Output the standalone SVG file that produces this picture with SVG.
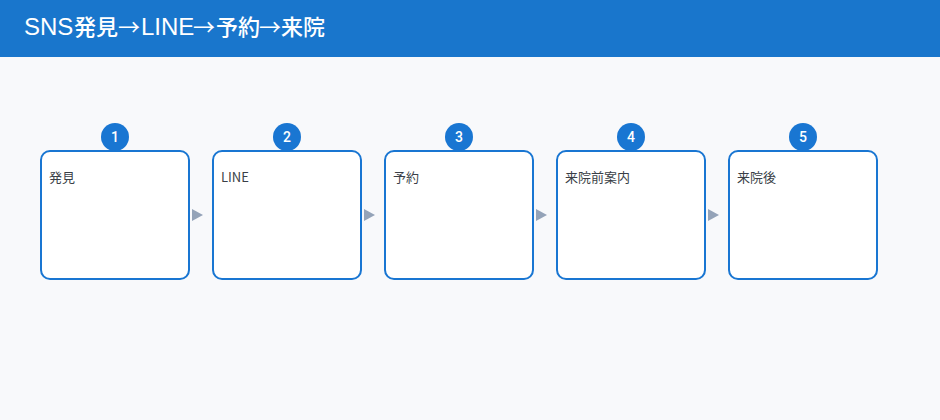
<svg xmlns="http://www.w3.org/2000/svg" width="940" height="420" viewBox="0 0 940 420">
<style>
.box{fill:#ffffff;stroke:#1976d2;stroke-width:2}
.badge{fill:#1976d2}
.num{font-family:Roboto,"Noto Sans CJK JP",sans-serif;font-size:14px;font-weight:500;fill:#ffffff;text-anchor:middle}
.lbl{font-family:"Noto Sans CJK JP","Noto Sans",sans-serif;font-size:13px;fill:#3a3f47}
.arr{fill:#94a3b8}
.t{fill:#ffffff}
.lat{font-family:"Liberation Sans",Arial,sans-serif;font-size:24px}
.cjk{font-family:"Noto Sans CJK JP",sans-serif;font-size:22px;font-weight:500}
.ar{font-family:"Noto Sans CJK JP",sans-serif;font-size:22px;font-weight:400}
</style>
<rect x="0" y="0" width="940" height="420" fill="#f8f9fb"/>
<rect x="0" y="0" width="940" height="57" fill="#1976cc"/>
<text class="t" y="35"><tspan class="lat" x="24">SNS</tspan><tspan class="cjk" x="74">発見</tspan><tspan class="ar" x="118" textLength="22" lengthAdjust="spacingAndGlyphs">→</tspan><tspan class="lat" x="141">LINE</tspan><tspan class="ar" x="193" textLength="22" lengthAdjust="spacingAndGlyphs">→</tspan><tspan class="cjk" x="216">予約</tspan><tspan class="ar" x="259" textLength="22" lengthAdjust="spacingAndGlyphs">→</tspan><tspan class="cjk" x="281">来院</tspan></text>
<g id="connectors">
<polygon class="arr" points="192,209 203,215 192,221"/>
<polygon class="arr" points="364,209 375,215 364,221"/>
<polygon class="arr" points="536,209 547,215 536,221"/>
<polygon class="arr" points="708,209 719,215 708,221"/>
</g>
<g id="node1"><rect class="box" x="41" y="151" width="148" height="128" rx="9"/><circle class="badge" cx="115" cy="137" r="14"/><text class="num" x="115" y="142">1</text><text class="lbl" x="49" y="182">発見</text></g>
<g id="node2"><rect class="box" x="213" y="151" width="148" height="128" rx="9"/><circle class="badge" cx="287" cy="137" r="14"/><text class="num" x="287" y="142">2</text><text class="lbl" x="221" y="182">LINE</text></g>
<g id="node3"><rect class="box" x="385" y="151" width="148" height="128" rx="9"/><circle class="badge" cx="459" cy="137" r="14"/><text class="num" x="459" y="142">3</text><text class="lbl" x="393" y="182">予約</text></g>
<g id="node4"><rect class="box" x="557" y="151" width="148" height="128" rx="9"/><circle class="badge" cx="631" cy="137" r="14"/><text class="num" x="631" y="142">4</text><text class="lbl" x="565" y="182">来院前案内</text></g>
<g id="node5"><rect class="box" x="729" y="151" width="148" height="128" rx="9"/><circle class="badge" cx="803" cy="137" r="14"/><text class="num" x="803" y="142">5</text><text class="lbl" x="737" y="182">来院後</text></g>
</svg>
